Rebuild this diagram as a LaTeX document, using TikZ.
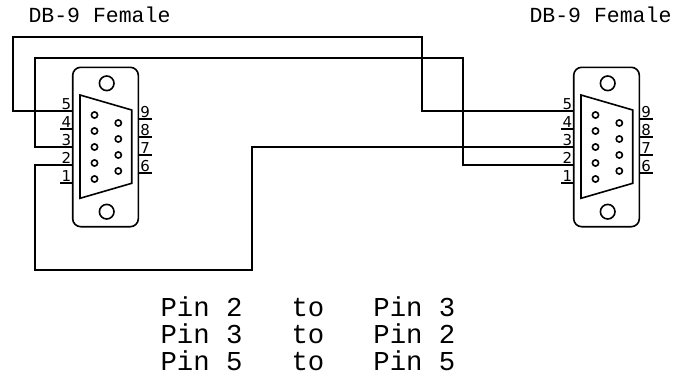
\documentclass[tikz,border=0pt]{standalone}
\usepackage{fontspec}
\setmonofont{Liberation Mono}
\newfontfamily\pinfont{DejaVu Sans}
\usetikzlibrary{calc}
\tikzset{
	wire/.style={line width=1.8pt},
	shell/.style={line width=1.6pt},
	hole/.style={line width=1.6pt},
	pinno/.style={font=\pinfont\fontsize{15}{15}\selectfont, inner sep=0pt, anchor=base},
	title/.style={font=\ttfamily\fontsize{21.5}{21.5}\selectfont, inner sep=0pt, anchor=base},
	tbl/.style={font=\ttfamily\fontsize{27.3}{27.3}\selectfont, inner sep=0pt, anchor=base west}
}
\def\dbnine#1#2{%
	\begin{scope}[shift={(#2,147)}]
		\draw[shell, rounded corners=8pt] (-32.8,-79.7) rectangle (32.8,79.7);
		\draw[shell] (1.2,-63.7) circle (7.3);
		\draw[shell] (1.2,64.7) circle (7.3);
		\draw[shell] (-25.5,-52) -- (26.2,-37) -- (26.2,36.3) -- (-25.5,51.3) -- cycle;
		\foreach \n [count=\k from 0] in {5,4,3,2,1}{
			\draw[hole] (-11,-32+16*\k) circle (3.1);
			\draw[shell] (-45.5,-36+18*\k) -- (-32.8,-36+18*\k);
			\coordinate (#1p\n) at (-45.5,-36+18*\k);
			\node[pinno] (#1n\n) at (-39.2,-37.6+18*\k) {\n};
		}
		\foreach \n [count=\k from 0] in {9,8,7,6}{
			\draw[hole] (12.8,-24+16*\k) circle (3.1);
			\draw[shell] (32.8,-28+18*\k) -- (46.5,-28+18*\k);
			\coordinate (#1p\n) at (46.5,-28+18*\k);
			\node[pinno] (#1n\n) at (39.6,-29.6+18*\k) {\n};
		}
	\end{scope}}

\begin{document}
\begin{tikzpicture}[x=1pt,y=-1pt]
	%%%%% START %%%%%
	\useasboundingbox (0,0) rectangle (680,388);
	
	\node[title] (ltitle) at (99.5,22) {DB-9 Female};
	\node[title] (rtitle) at (600.5,22) {DB-9 Female};
	
	\dbnine{L}{105.5}
	\dbnine{R}{606.5}
	
	\draw[wire] (Lp5) -| (12.7,37.3) -| (422.3,111) -- (Rp5);
	\draw[wire] (Lp3) -| (35,58.3) -| (463.3,165) -- (Rp2);
	\draw[wire] (Lp2) -| (35,270) -| (252.3,147) -- (Rp3);
	
	\foreach \a/\b [count=\i] in {2/3,3/2,5/5}{
		\node[tbl] (from\i) at (160.3,290+26.8*\i) {Pin \a};
		\node[tbl] (to\i) at (291.3,290+26.8*\i) {to};
		\node[tbl] (dest\i) at (373.2,290+26.8*\i) {Pin \b};
	}
	%%%%% END %%%%%
\end{tikzpicture}
\end{document}
